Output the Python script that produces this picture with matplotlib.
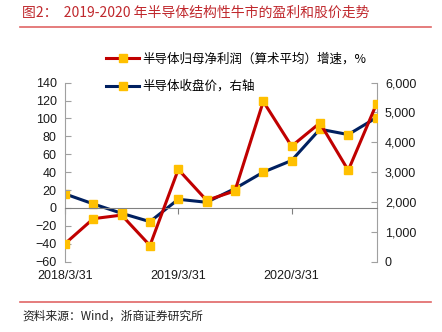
import matplotlib
matplotlib.use("Agg")
import matplotlib.pyplot as plt
from matplotlib.lines import Line2D
from matplotlib.ticker import FuncFormatter

plt.rcParams['font.family'] = ['Liberation Sans', 'Noto Sans CJK SC', 'DejaVu Sans']

# Quarterly observations, 2018Q1 .. 2020Q4
quarters = ["2018/3/31", "2018/6/30", "2018/9/30", "2018/12/31",
            "2019/3/31", "2019/6/30", "2019/9/30", "2019/12/31",
            "2020/3/31", "2020/6/30", "2020/9/30", "2020/12/31"]
profit_growth = [-40, -12, -8, -42, 43, 8.5, 19, 119, 69, 95, 42, 116.5]
index_close = [2270, 1935, 1620, 1340, 2090, 1990, 2450, 3000, 3390, 4440, 4260, 4830]

tick_idx = [0, 4, 8]
tick_labels = [quarters[i] for i in tick_idx]

left_ticks = list(range(-60, 141, 20))
right_ticks = list(range(0, 6001, 1000))

RED = "#C00000"
NAVY = "#002060"
GOLD = "#FFC000"
AXIS = "#A0A0A0"
TITLE_RED = "#C0282D"
RULE_RED = "#E06666"

fig = plt.figure(figsize=(4.42, 3.32), dpi=100)
ax = fig.add_axes([0.147, 0.212, 0.705, 0.539])
ax2 = ax.twinx()

x = list(range(len(quarters)))
ax2.plot(x, index_close, color=NAVY, lw=2.2, marker='s', ms=6,
         mfc=GOLD, mec=GOLD, zorder=3)
ax.plot(x, profit_growth, color=RED, lw=2.2, marker='s', ms=6,
        mfc=GOLD, mec=GOLD, zorder=3)
ax.set_zorder(ax2.get_zorder() + 1)
ax.patch.set_visible(False)

ax.set_xlim(0, len(quarters) - 1)
ax.set_ylim(-60, 140)
ax2.set_ylim(0, 6000)
ax.set_yticks(left_ticks)
ax2.set_yticks(right_ticks)
ax2.yaxis.set_major_formatter(FuncFormatter(lambda v, p: f"{int(v):,}"))

for a in (ax, ax2):
    for s in a.spines.values():
        s.set_visible(False)

ax.spines['left'].set_visible(True)
ax.spines['left'].set_color(AXIS)
ax2.spines['right'].set_visible(True)
ax2.spines['right'].set_color(AXIS)
ax.spines['bottom'].set_visible(True)
ax.spines['bottom'].set_position(('data', 0))
ax.spines['bottom'].set_color("#808080")

ax.tick_params(axis='y', direction='in', length=4, color=AXIS,
               labelsize=9, pad=6, labelcolor='#1a1a1a')
ax2.tick_params(axis='y', direction='in', length=4, color=AXIS,
                labelsize=9, pad=6, labelcolor='#1a1a1a')
ax.set_xticks(tick_idx)
ax.tick_params(axis='x', direction='out', length=4, color="#808080",
               labelbottom=False)

sec = ax.secondary_xaxis(0.0)
sec.set_xticks(tick_idx)
sec.set_xticklabels(tick_labels)
sec.spines['bottom'].set_visible(False)
sec.tick_params(axis='x', length=0, labelsize=9, pad=6, labelcolor='#1a1a1a')

handles = [
    Line2D([], [], color=RED, lw=2.2, marker='s', ms=5.5, mfc=GOLD, mec=GOLD),
    Line2D([], [], color=NAVY, lw=2.2, marker='s', ms=5.5, mfc=GOLD, mec=GOLD),
]
labels = ["半导体归母净利润（算术平均）增速，%", "半导体收盘价，右轴"]
fig.legend(handles, labels, loc='upper left', bbox_to_anchor=(0.215, 0.875),
           frameon=False, fontsize=9, handlelength=2.6, handletextpad=0.3,
           labelspacing=1.15, prop={'family': ['Noto Sans CJK SC'], 'size': 9})

fig.text(0.05, 0.962, "图2：  2019-2020 年半导体结构性牛市的盈利和股价走势",
         color=TITLE_RED, fontsize=10, va='center', ha='left',
         family=['Noto Sans CJK SC'])
fig.add_artist(Line2D([0.045, 0.975], [0.918, 0.918], color=RULE_RED, lw=1.2))
fig.add_artist(Line2D([0.045, 0.975], [0.09, 0.09], color=RULE_RED, lw=1.2))
fig.text(0.05, 0.047, "资料来源：Wind，浙商证券研究所", color='#222222',
         fontsize=8.5, va='center', ha='left', family=['Noto Sans CJK SC'])

fig.savefig("out.png", dpi=100)
